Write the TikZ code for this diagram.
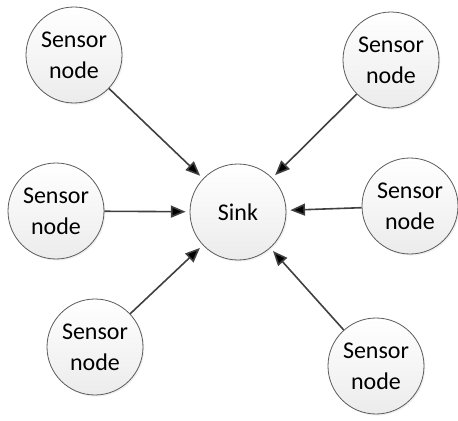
\documentclass[tikz,border=0pt]{standalone}
\usepackage{fontspec}
\setmainfont{Carlito}
\usepackage{tikz}
\usetikzlibrary{arrows.meta,positioning,shadows}
\definecolor{nodefill}{HTML}{F5F5F5}
\definecolor{nodeline}{HTML}{5A5A5A}
\definecolor{arrowline}{HTML}{404040}
\tikzset{
  sensor/.style={circle,draw=nodeline,top color=white,bottom color=nodefill!85!gray!70,line width=0.6pt,minimum size=72pt,inner sep=0pt,
    align=center,font=\fontsize{18}{23}\selectfont,
    drop shadow={opacity=0.12,shadow xshift=1pt,shadow yshift=-1.2pt}}
}
\begin{document}
\begin{tikzpicture}[x=0.75pt,y=-0.75pt]
\useasboundingbox (0,0) rectangle (458,421);
\node[sensor] (Sink) at (238,212) {Sink};
\node[sensor] (S1) at (74,55) {Sensor\\node};
\node[sensor] (S2) at (56,211) {Sensor\\node};
\node[sensor] (S3) at (95,347) {Sensor\\node};
\node[sensor] (S4) at (391,60) {Sensor\\node};
\node[sensor] (S5) at (410,206) {Sensor\\node};
\node[sensor] (S6) at (376,366) {Sensor\\node};
\path[->,draw=arrowline,line width=1.2pt,>={Triangle[length=11pt,width=9pt]},shorten >=3pt]
(S1) edge (Sink)
(S2) edge (Sink)
(S3) edge (Sink)
(S4) edge (Sink)
(S5) edge (Sink)
(S6) edge (Sink);
\end{tikzpicture}
\end{document}
